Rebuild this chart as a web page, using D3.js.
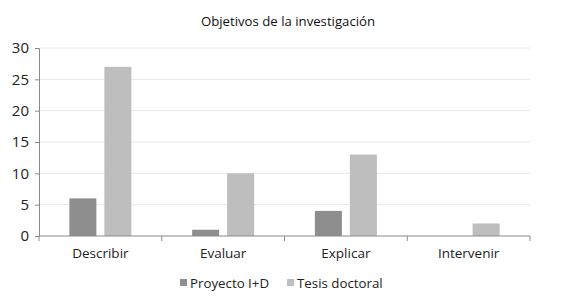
<!DOCTYPE html>
<html>
<head>
<meta charset="utf-8">
<script src="https://cdn.jsdelivr.net/npm/d3@7"></script>
<style>
  body { margin: 0; background: #fff; }
  svg { display: block; font-family: "Open Sans", "Noto Sans", sans-serif; }
</style>
</head>
<body>
<svg id="chart" width="577" height="305"></svg>
<script>
const categories = ["Describir", "Evaluar", "Explicar", "Intervenir"];
const seriesNames = ["Proyecto I+D", "Tesis doctoral"];
const proyecto = [6, 1, 4, 0];
const tesis = [27, 10, 13, 2];
const yTicks = [0, 5, 10, 15, 20, 25, 30];
const colors = ["#8e8e8e", "#bebebe"];

const svg = d3.select("#chart");
const margin = { left: 39, right: 47, top: 48, bottom: 69 };
const W = 577, H = 305;

const x = d3.scaleBand().domain(categories).range([margin.left, W - margin.right]);
const y = d3.scaleLinear().domain([0, 30]).range([H - margin.bottom, margin.top]);

const barW = 27, gap = 8;

// Title
svg.append("text")
  .attr("x", 288).attr("y", 26)
  .attr("text-anchor", "middle")
  .attr("font-size", 13.2)
  .attr("font-weight", 500)
  .attr("fill", "#111")
  .text("Objetivos de la investigación");

// Horizontal gridlines
svg.append("g").selectAll("line")
  .data(yTicks.filter(d => d > 0))
  .join("line")
  .attr("x1", margin.left).attr("x2", W - margin.right)
  .attr("y1", d => y(d)).attr("y2", d => y(d))
  .attr("stroke", "#e8e8e8").attr("stroke-width", 1);

// Bars, one group per series
[proyecto, tesis].forEach((vals, s) => {
  svg.append("g").selectAll("rect")
    .data(categories.map((c, i) => ({ c, v: vals[i] })))
    .join("rect")
    .attr("x", d => x(d.c) + x.bandwidth() / 2 + (s === 0 ? -gap / 2 - barW : gap / 2))
    .attr("width", barW)
    .attr("y", d => y(d.v))
    .attr("height", d => y(0) - y(d.v))
    .attr("fill", colors[s]);
});

// Y axis
const yAxis = d3.axisLeft(y).tickValues(yTicks).tickSize(4).tickPadding(6);
const gy = svg.append("g")
  .attr("transform", `translate(${margin.left},0)`)
  .call(yAxis);
gy.select(".domain").attr("stroke", "#8a8a8a");
gy.selectAll(".tick line").attr("stroke", "#8a8a8a");
gy.selectAll(".tick text").attr("font-size", 15).attr("fill", "#222")
  .attr("font-family", "'Open Sans', sans-serif");

// X axis baseline with boundary ticks
const gx = svg.append("g").attr("transform", `translate(0,${y(0)})`);
gx.append("line")
  .attr("x1", margin.left).attr("x2", W - margin.right)
  .attr("stroke", "#8a8a8a");
const bounds = categories.map(c => x(c)).concat([x(categories[categories.length - 1]) + x.bandwidth()]);
gx.selectAll("line.b")
  .data(bounds)
  .join("line")
  .attr("class", "b")
  .attr("x1", d => d).attr("x2", d => d)
  .attr("y1", 0).attr("y2", 5)
  .attr("stroke", "#8a8a8a");
gx.selectAll("text")
  .data(categories)
  .join("text")
  .attr("x", d => x(d) + x.bandwidth() / 2)
  .attr("y", 22)
  .attr("text-anchor", "middle")
  .attr("font-size", 13.5)
  .attr("fill", "#222")
  .text(d => d);

// Legend
const legend = svg.append("g").attr("transform", "translate(180,283)");
const legendX = [0, 107];
seriesNames.forEach((name, i) => {
  legend.append("rect")
    .attr("x", legendX[i]).attr("y", -4)
    .attr("width", 7).attr("height", 7)
    .attr("fill", colors[i]);
  legend.append("text")
    .attr("x", legendX[i] + 10).attr("y", 5)
    .attr("font-size", 13.3)
    .attr("fill", "#222")
    .text(name);
});
</script>
</body>
</html>
